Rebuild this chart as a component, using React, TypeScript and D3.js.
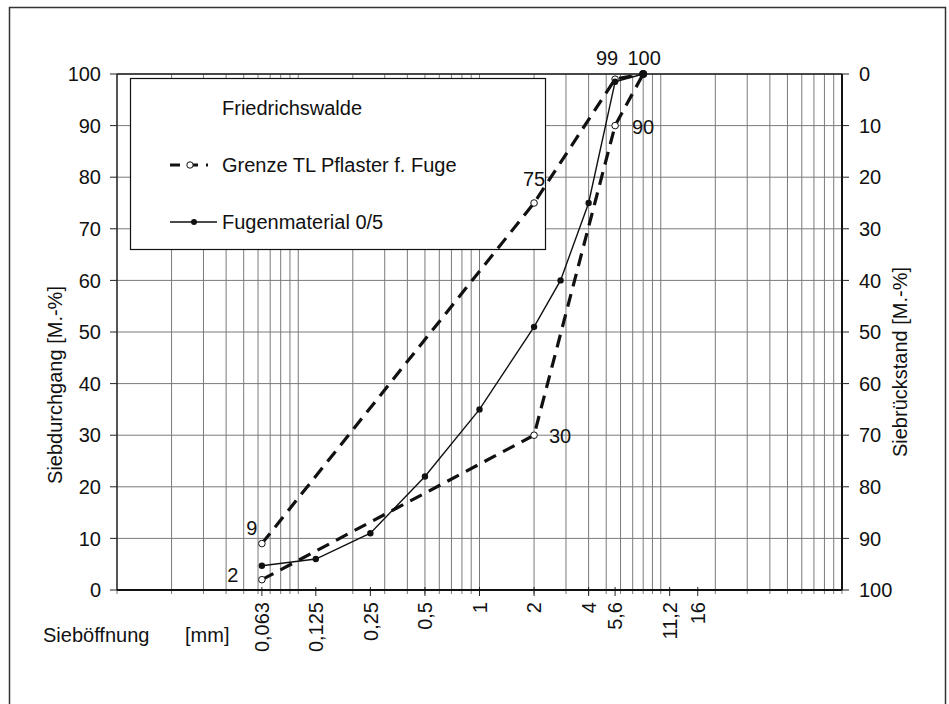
import React from "react";
import * as d3 from "d3";

// ---------- data ----------
const sieveTicks = [0.063, 0.125, 0.25, 0.5, 1, 2, 4, 5.6, 11.2, 16];
const sieveTickLabels = ["0,063", "0,125", "0,25", "0,5", "1", "2", "4", "5,6", "11,2", "16"];
const yTicks = [0, 10, 20, 30, 40, 50, 60, 70, 80, 90, 100];

const materialSizes = [0.063, 0.125, 0.25, 0.5, 1, 2, 2.8, 4, 5.6, 8];
const materialValues = [4.7, 6, 11, 22, 35, 51, 60, 75, 98.5, 100];

const upperSizes = [0.063, 2, 5.6, 8];
const upperValues = [9, 75, 99, 100];
const upperLabels = ["9", "75", "99", ""];

const lowerSizes = [0.063, 2, 5.6, 8];
const lowerValues = [2, 30, 90, 100];
const lowerLabels = ["2", "30", "90", "100"];

const legendTitle = "Friedrichswalde";
const legendLimit = "Grenze TL Pflaster f. Fuge";
const legendMaterial = "Fugenmaterial 0/5";
const yTitle = "Siebdurchgang  [M.-%]";
const y2Title = "Siebrückstand  [M.-%]";
const xTitle = "Sieböffnung";
const xUnit = "[mm]";

// ---------- layout ----------
const W = 949;
const H = 704;
const FONT = "'Liberation Sans', Arial, sans-serif";
const FS = 20;
const upperOffsets = [[-10, -16], [0, -24], [-8, -21], [0, 0]];
const lowerOffsets = [[-29, -5], [26, 1], [28, 1], [1, -16]];

export default function App() {
  const x = d3.scaleLog().domain([0.01, 100]).range([117, 842]);
  const y = d3.scaleLinear().domain([0, 100]).range([590, 74]);
  const y2 = d3.scaleLinear().domain([100, 0]).range([590, 74]);

  const gridX: number[] = [];
  for (let e = -2; e <= 1; e++) {
    for (let k = 1; k <= 9; k++) gridX.push(k * Math.pow(10, e));
  }
  gridX.push(100);

  const line = d3
    .line<[number, number]>()
    .x((d) => x(d[0]))
    .y((d) => y(d[1]));

  const matPts: [number, number][] = materialSizes.map((s, i) => [s, materialValues[i]]);
  const upPts: [number, number][] = upperSizes.map((s, i) => [s, upperValues[i]]);
  const loPts: [number, number][] = lowerSizes.map((s, i) => [s, lowerValues[i]]);

  const [x0, x1] = x.range();
  const [yb, yt] = y.range();
  const gridColor = "#7a7a7a";

  return (
    <svg
      width={W}
      height={H}
      style={{ position: "absolute", left: 0, top: 0, background: "#fff" }}
      fontFamily={FONT}
      fontSize={FS}
    >
      <rect x={0} y={0} width={W} height={H} fill="#fff" />
      {/* outer frame */}
      <rect x={9.5} y={7.5} width={936} height={740} fill="none" stroke="#333" strokeWidth={1.5} />

      {/* horizontal grid */}
      {yTicks.map((t) => (
        <line key={"hg" + t} x1={x0} x2={x1} y1={y(t)} y2={y(t)} stroke={gridColor} strokeWidth={1} />
      ))}
      {/* vertical grid */}
      {gridX.map((g, i) => (
        <line key={"vg" + i} x1={x(g)} x2={x(g)} y1={yt} y2={yb + 4} stroke={gridColor} strokeWidth={1} />
      ))}
      {/* sieve ticks */}
      {sieveTicks.map((s, i) => (
        <line key={"st" + i} x1={x(s)} x2={x(s)} y1={yb - 3} y2={yb + 6} stroke="#222" strokeWidth={1} />
      ))}

      {/* axes */}
      <line x1={x0} x2={x0} y1={yt} y2={yb} stroke="#333" strokeWidth={1.5} />
      <line x1={x1} x2={x1} y1={yt} y2={yb} stroke="#111" strokeWidth={2} />
      <line x1={x0} x2={x1} y1={yb} y2={yb} stroke="#111" strokeWidth={2} />
      <line x1={x0} x2={x1} y1={yt} y2={yt} stroke="#222" strokeWidth={1.5} />

      {/* left ticks + labels */}
      {yTicks.map((t) => (
        <g key={"yl" + t}>
          <line x1={x0 - 7} x2={x0} y1={y(t)} y2={y(t)} stroke="#222" strokeWidth={1} />
          <text x={x0 - 16} y={y(t)} dy="0.36em" textAnchor="end" fill="#111">
            {t}
          </text>
        </g>
      ))}
      {/* right ticks + labels */}
      {yTicks.map((t) => (
        <g key={"yr" + t}>
          <line x1={x1} x2={x1 + 7} y1={y2(t)} y2={y2(t)} stroke="#222" strokeWidth={1} />
          <text x={x1 + 17} y={y2(t)} dy="0.36em" textAnchor="start" fill="#111">
            {t}
          </text>
        </g>
      ))}

      {/* x tick labels */}
      {sieveTicks.map((s, i) => (
        <text
          key={"xl" + i}
          transform={`translate(${x(s)},${yb + 12}) rotate(-90)`}
          dy="0.36em"
          textAnchor="end"
          fill="#111"
        >
          {sieveTickLabels[i]}
        </text>
      ))}

      {/* axis titles */}
      <text transform={`translate(62,385) rotate(-90)`} textAnchor="middle" fill="#111">
        {yTitle}
      </text>
      <text transform={`translate(907,362) rotate(-90)`} textAnchor="middle" fill="#111">
        {y2Title}
      </text>
      <text x={43} y={642} fill="#111">
        {xTitle}
      </text>
      <text x={185} y={642} fill="#111">
        {xUnit}
      </text>

      {/* legend */}
      <rect x={130.5} y={78.5} width={415} height={171} fill="#fff" stroke="#111" strokeWidth={1.2} />
      <text x={222} y={108} dy="0.36em" fill="#111">
        {legendTitle}
      </text>
      <line x1={170} x2={208} y1={165} y2={165} stroke="#111" strokeWidth={3.2} strokeDasharray="10 8" />
      <circle cx={190} cy={165} r={3.2} fill="#fff" stroke="#111" strokeWidth={1} />
      <text x={222} y={165} dy="0.36em" fill="#111">
        {legendLimit}
      </text>
      <line x1={170} x2={217} y1={222} y2={222} stroke="#111" strokeWidth={1.3} />
      <circle cx={194} cy={222} r={3} fill="#111" />
      <text x={222} y={222} dy="0.36em" fill="#111">
        {legendMaterial}
      </text>

      {/* limit curves */}
      <path d={line(upPts) || ""} fill="none" stroke="#111" strokeWidth={3.2} strokeDasharray="13 8" />
      <path d={line(loPts) || ""} fill="none" stroke="#111" strokeWidth={3.2} strokeDasharray="13 8" />
      {upPts.map((p, i) => (
        <circle key={"uc" + i} cx={x(p[0])} cy={y(p[1])} r={3.3} fill="#fff" stroke="#111" strokeWidth={1} />
      ))}
      {loPts.map((p, i) => (
        <circle key={"lc" + i} cx={x(p[0])} cy={y(p[1])} r={3.3} fill="#fff" stroke="#111" strokeWidth={1} />
      ))}

      {/* material curve */}
      <path d={line(matPts) || ""} fill="none" stroke="#111" strokeWidth={1.4} />
      {matPts.map((p, i) => (
        <circle key={"mc" + i} cx={x(p[0])} cy={y(p[1])} r={i === matPts.length - 1 ? 4 : 3.2} fill="#111" />
      ))}

      {/* data labels */}
      {upPts.map((p, i) =>
        upperLabels[i] ? (
          <text
            key={"ul" + i}
            x={x(p[0]) + upperOffsets[i][0]}
            y={y(p[1]) + upperOffsets[i][1]}
            dy="0.36em"
            textAnchor="middle"
            fill="#111"
          >
            {upperLabels[i]}
          </text>
        ) : null
      )}
      {loPts.map((p, i) =>
        lowerLabels[i] ? (
          <text
            key={"ll" + i}
            x={x(p[0]) + lowerOffsets[i][0]}
            y={y(p[1]) + lowerOffsets[i][1]}
            dy="0.36em"
            textAnchor="middle"
            fill="#111"
          >
            {lowerLabels[i]}
          </text>
        ) : null
      )}
    </svg>
  );
}
